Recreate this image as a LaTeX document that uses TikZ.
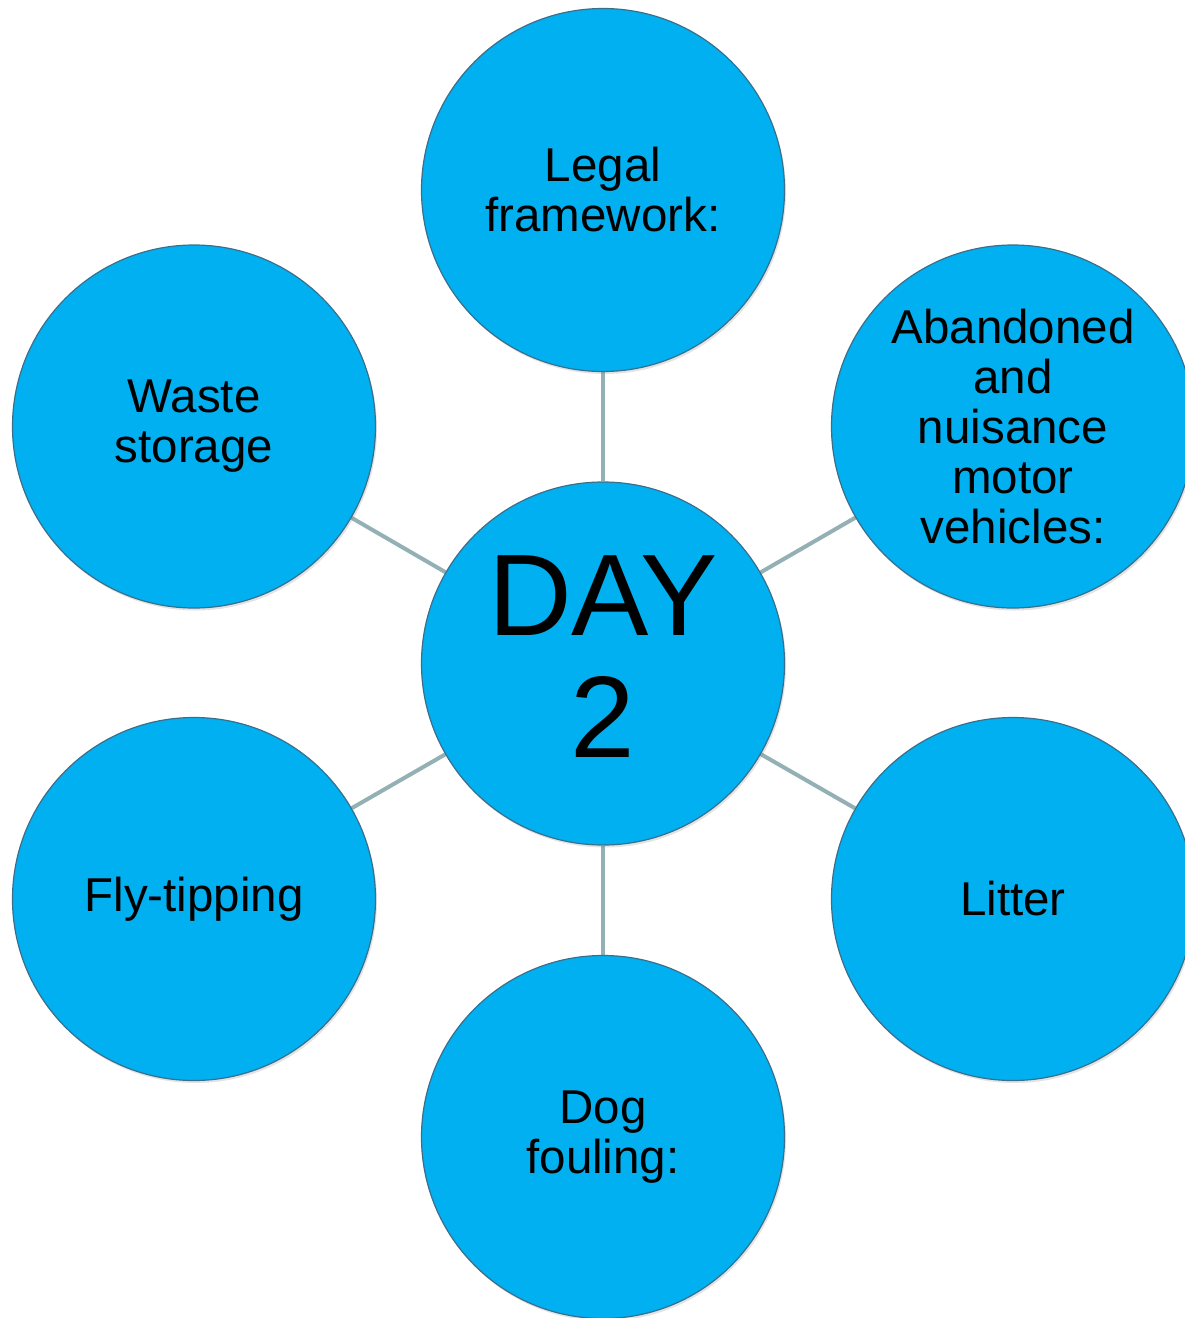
\documentclass[tikz,border=0pt]{standalone}
\usepackage{fontspec}
\setmainfont{Liberation Sans}
\usetikzlibrary{backgrounds,shadows}
\definecolor{bubblefill}{HTML}{00B0F0}
\definecolor{bubbleedge}{HTML}{3A6F8C}
\definecolor{linkcol}{HTML}{93B0B5}
\tikzset{
  bubble/.style={circle, fill=bubblefill, draw=bubbleedge, line width=1.2pt,
    minimum size=363pt, inner sep=0pt, align=center,
    font=\fontsize{47.5pt}{50pt}\selectfont,
    drop shadow={opacity=0.22, shadow xshift=1.5pt, shadow yshift=-2.5pt}},
  hubfont/.style={font=\fontsize{116pt}{122pt}\selectfont},
  link/.style={draw=linkcol, line width=4pt}
}
\begin{document}
\begin{tikzpicture}[x=1pt,y=-1pt]
\useasboundingbox (0,0) rectangle (1185,1318);
\clip (0,0) rectangle (1185,1318);
\node[bubble, hubfont, text depth=14pt] (hub) at (603,663.5) {DAY\\2};
\node[bubble] (legal) at (603,190) {Legal\\framework:};
\node[bubble] (vehicles) at (1013,426.5) {Abandoned\\and\\nuisance\\motor\\vehicles:};
\node[bubble] (litter) at (1013,899) {Litter};
\node[bubble] (dog) at (603,1137) {Dog\\fouling:};
\node[bubble] (fly) at (194,899) {Fly-tipping};
\node[bubble] (waste) at (194,426.5) {Waste\\storage};
\begin{scope}[on background layer]
\draw[link] (hub) -- (legal);
\draw[link] (hub) -- (vehicles);
\draw[link] (hub) -- (litter);
\draw[link] (hub) -- (dog);
\draw[link] (hub) -- (fly);
\draw[link] (hub) -- (waste);
\end{scope}
\end{tikzpicture}
\end{document}
